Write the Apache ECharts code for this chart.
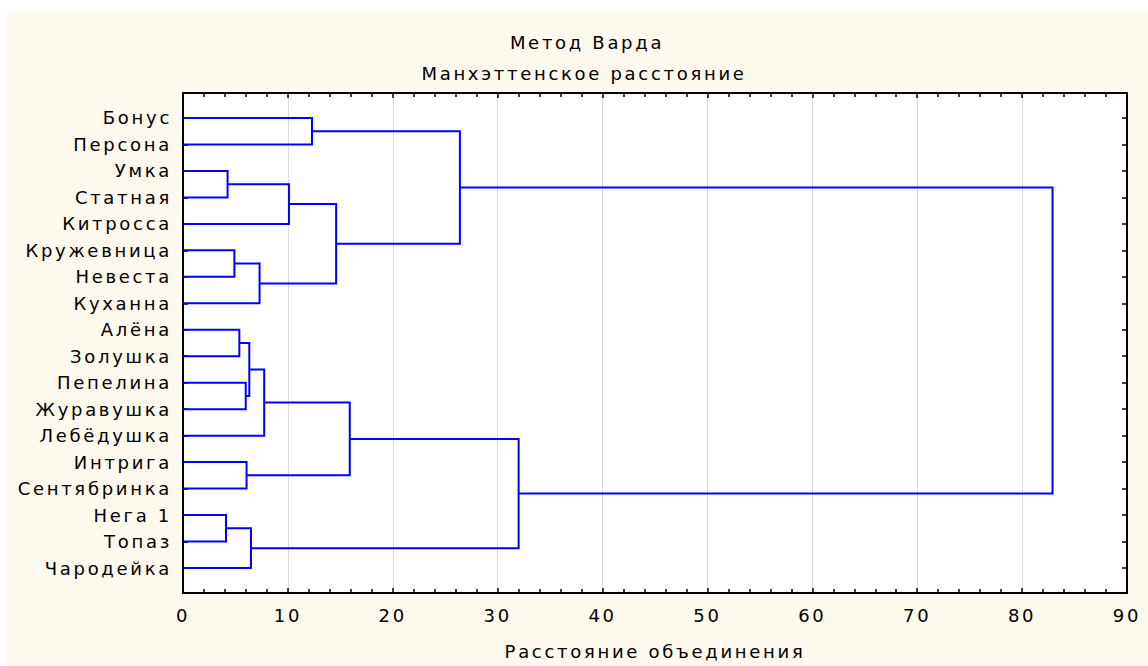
<!DOCTYPE html>
<html>
<head>
<meta charset="utf-8">
<script src="https://cdn.jsdelivr.net/npm/echarts@6/dist/echarts.min.js"></script>
<style>
  html, body { margin: 0; padding: 0; background: #ffffff; }
  #wrap { position: relative; width: 1148px; height: 666px; background: #ffffff; overflow: hidden; }
  #bg { position: absolute; left: 7px; top: 11px; right: 0; bottom: 0; background: #fdf9ef; }
  #chart { position: absolute; left: 0; top: 0; width: 1148px; height: 666px; }
  #chart text { letter-spacing: 2.7px !important; }
</style>
</head>
<body>
<div id="wrap"><div id="bg"></div><div id="chart"></div></div>
<script>
// Leaves (top to bottom)
const leaves = ['Бонус','Персона','Умка','Статная','Китросса','Кружевница','Невеста','Куханна',
  'Алёна','Золушка','Пепелина','Журавушка','Лебёдушка','Интрига','Сентябринка','Нега 1','Топаз','Чародейка'];
// Merges (linkage): cluster ids >= leaves.length refer to earlier merges
const mergeA    = [2, 15, 5, 8, 10, 13, 21, 19, 20, 24, 18, 0, 28, 27, 29, 31, 32];
const mergeB    = [3, 16, 6, 9, 11, 14, 22, 17, 7, 12, 4, 1, 26, 23, 30, 25, 33];
const mergeDist = [4.25, 4.1, 4.9, 5.37, 5.98, 6.06, 6.32, 6.48, 7.3, 7.74, 10.1, 12.3, 14.6, 15.9, 26.4, 32.0, 82.9];
const xTicks = [0, 10, 20, 30, 40, 50, 60, 70, 80, 90];

const n = leaves.length;
const pos = leaves.map((_, i) => i);
const hgt = leaves.map(() => 0);
const segs = [];
for (let k = 0; k < mergeA.length; k++) {
  const a = mergeA[k], b = mergeB[k], d = mergeDist[k];
  segs.push([hgt[a], pos[a], d, pos[b], hgt[b]]);
  pos.push((pos[a] + pos[b]) / 2);
  hgt.push(d);
}
const rowVals = leaves.map((_, i) => i);
const FONT = 'DejaVu Sans';
const FS = 18;

const chart = echarts.init(document.getElementById('chart'), null, { renderer: 'svg' });
chart.setOption({
  backgroundColor: 'transparent',
  animation: false,
  title: [
    { text: 'Метод Варда', left: 582, top: 28, textAlign: 'center',
      textStyle: { fontFamily: FONT, fontSize: FS, fontWeight: 'normal', color: '#000' } },
    { text: 'Манхэттенское расстояние', left: 579, top: 59, textAlign: 'center',
      textStyle: { fontFamily: FONT, fontSize: FS, fontWeight: 'normal', color: '#000' } }
  ],
  grid: { left: 183, right: 21, top: 93, bottom: 73, show: true, backgroundColor: '#ffffff',
          borderWidth: 0, outerBoundsMode: 'none' },
  xAxis: [
    { type: 'value', position: 'bottom', min: xTicks[0], max: xTicks[xTicks.length - 1], interval: 10,
      name: 'Расстояние объединения', nameLocation: 'middle', nameGap: 49,
      nameTextStyle: { fontFamily: FONT, fontSize: FS, color: '#000' },
      axisLine: { show: true, onZero: false, lineStyle: { color: '#000', width: 2 } },
      axisTick: { show: true, inside: true, length: 5, lineStyle: { color: '#000', width: 1.5 } },
      minorTick: { show: true, splitNumber: 5, length: 4, lineStyle: { color: '#000', width: 1.5 } },
      axisLabel: { show: true, margin: 13, fontFamily: FONT, fontSize: FS, color: '#000' },
      splitLine: { show: true, lineStyle: { color: '#d9d9d9', width: 1 } },
      minorSplitLine: { show: false } },
    { type: 'value', position: 'top', min: xTicks[0], max: xTicks[xTicks.length - 1], interval: 10,
      axisLine: { show: true, onZero: false, lineStyle: { color: '#000', width: 2 } },
      axisTick: { show: true, inside: true, length: 5, lineStyle: { color: '#000', width: 1.5 } },
      minorTick: { show: true, splitNumber: 5, length: 4, lineStyle: { color: '#000', width: 1.5 } },
      axisLabel: { show: false }, splitLine: { show: false } }
  ],
  yAxis: [
    { type: 'value', position: 'left', inverse: true, min: -0.944, max: n - 1 + 0.944,
      axisLine: { show: true, onZero: false, lineStyle: { color: '#000', width: 2 } },
      axisTick: { show: true, inside: true, length: 5, customValues: rowVals,
                  lineStyle: { color: '#000', width: 1.5 } },
      axisLabel: { show: true, customValues: rowVals, margin: 11, fontFamily: FONT, fontSize: FS, color: '#000',
                   formatter: v => leaves[Math.round(v)] },
      splitLine: { show: false } },
    { type: 'value', position: 'right', inverse: true, min: -0.944, max: n - 1 + 0.944,
      axisLine: { show: true, onZero: false, lineStyle: { color: '#000', width: 2 } },
      axisTick: { show: true, inside: true, length: 5, customValues: rowVals,
                  lineStyle: { color: '#000', width: 1.5 } },
      axisLabel: { show: false }, splitLine: { show: false } }
  ],
  series: [{
    type: 'custom',
    xAxisIndex: 0, yAxisIndex: 0,
    encode: { x: [0, 2, 4], y: [1, 3] },
    data: segs,
    z: 5,
    renderItem: function (params, api) {
      const p1 = api.coord([api.value(0), api.value(1)]);
      const p2 = api.coord([api.value(2), api.value(1)]);
      const p3 = api.coord([api.value(2), api.value(3)]);
      const p4 = api.coord([api.value(4), api.value(3)]);
      return { type: 'polyline', shape: { points: [p1, p2, p3, p4] },
               style: { stroke: '#0000ff', lineWidth: 2, fill: null } };
    }
  }]
});
</script>
</body>
</html>
